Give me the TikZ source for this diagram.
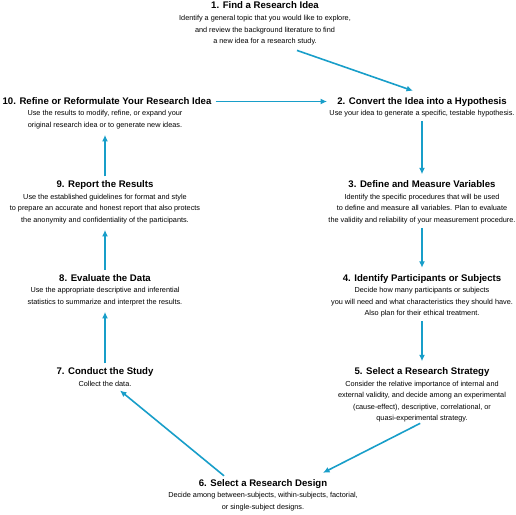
\documentclass[tikz,border=0pt]{standalone}
\usepackage{fontspec}
\setmainfont{Liberation Sans}
\usetikzlibrary{positioning,arrows.meta}
\definecolor{flowblue}{RGB}{24,158,201}
\tikzset{
  steptitle/.style={font=\fontsize{9.6}{10}\selectfont\bfseries, inner sep=0pt,
    text height=7pt, text depth=2pt},
  stepbody/.style={font=\fontsize{7.3}{11.5}\selectfont, align=center, inner sep=0pt},
  flow/.style={draw=flowblue, line width=1.6pt, shorten <=4pt, shorten >=6pt,
    -{Latex[length=6.5pt,width=6pt]}}
}
\begin{document}
\begin{tikzpicture}[x=1pt,y=1pt]
\useasboundingbox (0,0) rectangle (516,-514);
% step titles
\node[steptitle] (t1)  at (265,-6.5)   {1. Find a Research Idea};
\node[steptitle] (t2)  at (422,-101.5) {2. Convert the Idea into a Hypothesis};
\node[steptitle] (t3)  at (422,-185)   {3. Define and Measure Variables};
\node[steptitle] (t4)  at (422,-278.5) {4. Identify Participants or Subjects};
\node[steptitle] (t5)  at (422,-372)   {5. Select a Research Strategy};
\node[steptitle] (t6)  at (263,-483.5) {6. Select a Research Design};
\node[steptitle] (t7)  at (105,-372)   {7. Conduct the Study};
\node[steptitle] (t8)  at (105,-278.5) {8. Evaluate the Data};
\node[steptitle] (t9)  at (105,-185)   {9. Report the Results};
\node[steptitle] (t10) at (107,-101.5) {10. Refine or Reformulate Your Research Idea};
% step texts
\node[stepbody, below=4pt of t1] (b1) {Identify a general topic that you would like to explore,\\
  and review the background literature to find\\ a new idea for a research study.};
\node[stepbody, below=4pt of t2] (b2) {Use your idea to generate a specific, testable hypothesis.};
\node[stepbody, below=4pt of t3] (b3) {Identify the specific procedures that will be used\\
  to define and measure all variables. Plan to evaluate\\
  the validity and reliability of your measurement procedure.};
\node[stepbody, below=4pt of t4] (b4) {Decide how many participants or subjects\\
  you will need and what characteristics they should have.\\ Also plan for their ethical treatment.};
\node[stepbody, below=4pt of t5] (b5) {Consider the relative importance of internal and\\
  external validity, and decide among an experimental\\
  (cause-effect), descriptive, correlational, or\\ quasi-experimental strategy.};
\node[stepbody, below=4pt of t6] (b6) {Decide among between-subjects, within-subjects, factorial,\\
  or single-subject designs.};
\node[stepbody, below=4pt of t7] (b7) {Collect the data.};
\node[stepbody, below=4pt of t8] (b8) {Use the appropriate descriptive and inferential\\
  statistics to summarize and interpret the results.};
\node[stepbody, below=4pt of t9] (b9) {Use the established guidelines for format and style\\
  to prepare an accurate and honest report that also protects\\
  the anonymity and confidentiality of the participants.};
\node[stepbody, below=4pt of t10, xshift=-2pt] (b10) {Use the results to modify, refine, or expand your\\
  original research idea or to generate new ideas.};
% cycle
\draw[flow, shorten <=0pt, shorten >=0pt] ([xshift=32pt,yshift=-5pt]b1.south) -- ([xshift=-9pt,yshift=6pt]t2.north);
\draw[flow] (b2) -- (t3);
\draw[flow] (b3) -- (t4);
\draw[flow] (b4) -- (t5);
\draw[flow, shorten <=2pt, shorten >=0pt] (b5.south) -- ([xshift=60pt,yshift=6pt]t6.north);
\draw[flow, shorten <=0pt, shorten >=0pt] ([xshift=-39pt,yshift=3pt]t6.north) -- ([xshift=15pt,yshift=-4pt]b7.south);
\draw[flow] (t7) -- (b8);
\draw[flow] (t8) -- (b9);
\draw[flow] (t9) -- (b10);
\draw[flow, shorten >=10pt] (t10) -- (t2);
\end{tikzpicture}
\end{document}
